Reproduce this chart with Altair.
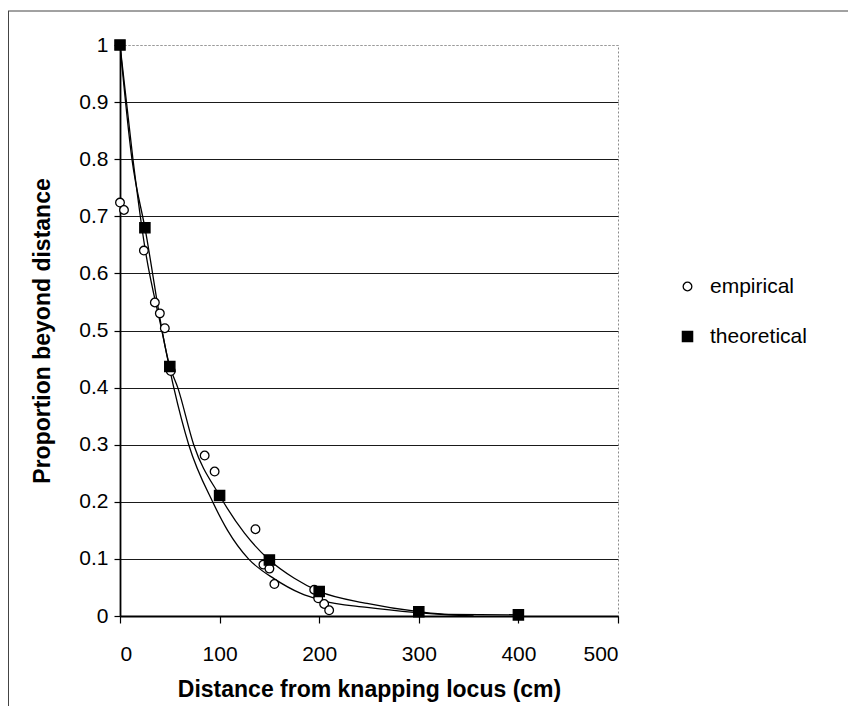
import altair as alt
import pandas as pd

# Empirical observations (open circles)
emp_x = [0, 4, 24, 35, 40, 45, 51, 85, 95, 136, 144, 150, 155, 195, 199, 205, 210]
emp_y = [0.724, 0.711, 0.640, 0.549, 0.530, 0.504, 0.429, 0.281, 0.253, 0.152, 0.090, 0.083, 0.056, 0.046, 0.031, 0.021, 0.010]

# Theoretical values (filled squares)
theo_x = [0, 25, 50, 100, 150, 200, 300, 400]
theo_y = [1.0, 0.680, 0.437, 0.211, 0.098, 0.043, 0.0075, 0.002]

# Smooth curve drawn through the theoretical values
tcurve_x = [0, 12, 25, 50, 58, 74, 100, 125, 150, 175, 200, 248, 300, 330, 400]
tcurve_y = [1.0, 0.80, 0.680, 0.437, 0.40, 0.30, 0.211, 0.145, 0.098, 0.066, 0.043, 0.022, 0.0075, 0.003, 0.002]

# Fitted curve through the empirical data (line only)
fit_x = [0, 13, 25, 42, 54, 69, 93, 108, 129, 155, 181, 201, 248, 298, 330, 355]
fit_y = [1.0, 0.80, 0.645, 0.50, 0.40, 0.30, 0.20, 0.15, 0.10, 0.065, 0.040, 0.028, 0.015, 0.006, 0.002, 0.0]

x_ticks = [0, 100, 200, 300, 400, 500]
y_ticks = [0, 0.1, 0.2, 0.3, 0.4, 0.5, 0.6, 0.7, 0.8, 0.9, 1.0]
series_names = ["empirical", "theoretical"]

emp = pd.DataFrame({"x": emp_x, "y": emp_y, "series": series_names[0]})
theo = pd.DataFrame({"x": theo_x, "y": theo_y, "series": series_names[1]})
pts = pd.concat([emp, theo], ignore_index=True)
tcurve = pd.DataFrame({"x": tcurve_x, "y": tcurve_y})
fit = pd.DataFrame({"x": fit_x, "y": fit_y})

FONT = "Liberation Sans"

xs = alt.Scale(domain=[0, 500], nice=False, zero=False)
ys = alt.Scale(domain=[0, 1], nice=False)

x_enc = alt.X(
    "x:Q",
    scale=xs,
    axis=alt.Axis(
        values=x_ticks,
        grid=False,
        title="Distance from knapping locus (cm)",
        titleFont=FONT,
        titleFontSize=23,
        titleFontWeight="bold",
        titleColor="black",
        titlePadding=14,
        labelFont=FONT,
        labelFontSize=21,
        labelColor="black",
        labelPadding=20,
        tickSize=7,
        tickColor="black",
        tickWidth=1.2,
        domainColor="black",
        domainWidth=2,
    ),
)

y_enc = alt.Y(
    "y:Q",
    scale=ys,
    axis=alt.Axis(
        values=y_ticks,
        format="~g",
        grid=True,
        gridColor={"condition": {"test": "datum.value >= 1", "value": "#9a9a9a"}, "value": "#1a1a1a"},
        gridDash={"condition": {"test": "datum.value >= 1", "value": [2, 2]}, "value": []},
        gridWidth=1,
        title="Proportion beyond distance",
        titleFont=FONT,
        titleFontSize=23,
        titleFontWeight="bold",
        titleColor="black",
        titlePadding=24,
        labelFont=FONT,
        labelFontSize=21,
        labelColor="black",
        labelPadding=6,
        tickSize=6,
        tickColor="black",
        tickWidth=1.2,
        domainColor="black",
        domainWidth=1.8,
    ),
)

theo_line = alt.Chart(tcurve).mark_line(
    interpolate="monotone", color="black", strokeWidth=1.3
).encode(x=x_enc, y=y_enc)

fit_line = alt.Chart(fit).mark_line(
    interpolate="monotone", color="black", strokeWidth=1.3
).encode(x="x:Q", y="y:Q")

leg = alt.Legend(
    title=None,
    orient="none",
    legendX=557,
    legendY=231,
    padding=0,
    labelFont=FONT,
    labelFontSize=21,
    labelColor="black",
    labelOffset=12,
    rowPadding=28,
    symbolStrokeColor="black",
    symbolStrokeWidth=1.3,
)

points = alt.Chart(pts).mark_point(
    filled=True, strokeWidth=1.3, opacity=1
).encode(
    x="x:Q",
    y="y:Q",
    shape=alt.Shape("series:N", scale=alt.Scale(domain=series_names, range=["circle", "square"]), legend=leg),
    size=alt.Size("series:N", scale=alt.Scale(domain=series_names, range=[75, 105]), legend=leg),
    fill=alt.Fill("series:N", scale=alt.Scale(domain=series_names, range=["white", "black"]), legend=leg),
    stroke=alt.Stroke("series:N", scale=alt.Scale(domain=series_names, range=["black", "black"]), legend=leg),
)

frame_df = pd.DataFrame({"k": [0]})
frame_left = alt.Chart(frame_df).mark_rule(color="#444", strokeWidth=1).encode(
    x=alt.value(-111.5), y=alt.value(-34), y2=alt.value(700)
)
frame_top = alt.Chart(frame_df).mark_rule(color="#444", strokeWidth=1).encode(
    x=alt.value(-112), x2=alt.value(760), y=alt.value(-34)
)

chart = alt.layer(theo_line, fit_line, points, frame_left, frame_top).properties(
    width=498,
    height=571,
    autosize=alt.AutoSizeParams(type="none"),
    padding={"left": 112, "top": 37, "right": 230, "bottom": 90},
    background="white",
).configure_view(
    stroke="#8a8a8a", strokeDash=[2, 2], strokeWidth=1
)

chart.save("out.html", embed_options={"renderer": "svg", "actions": False})
